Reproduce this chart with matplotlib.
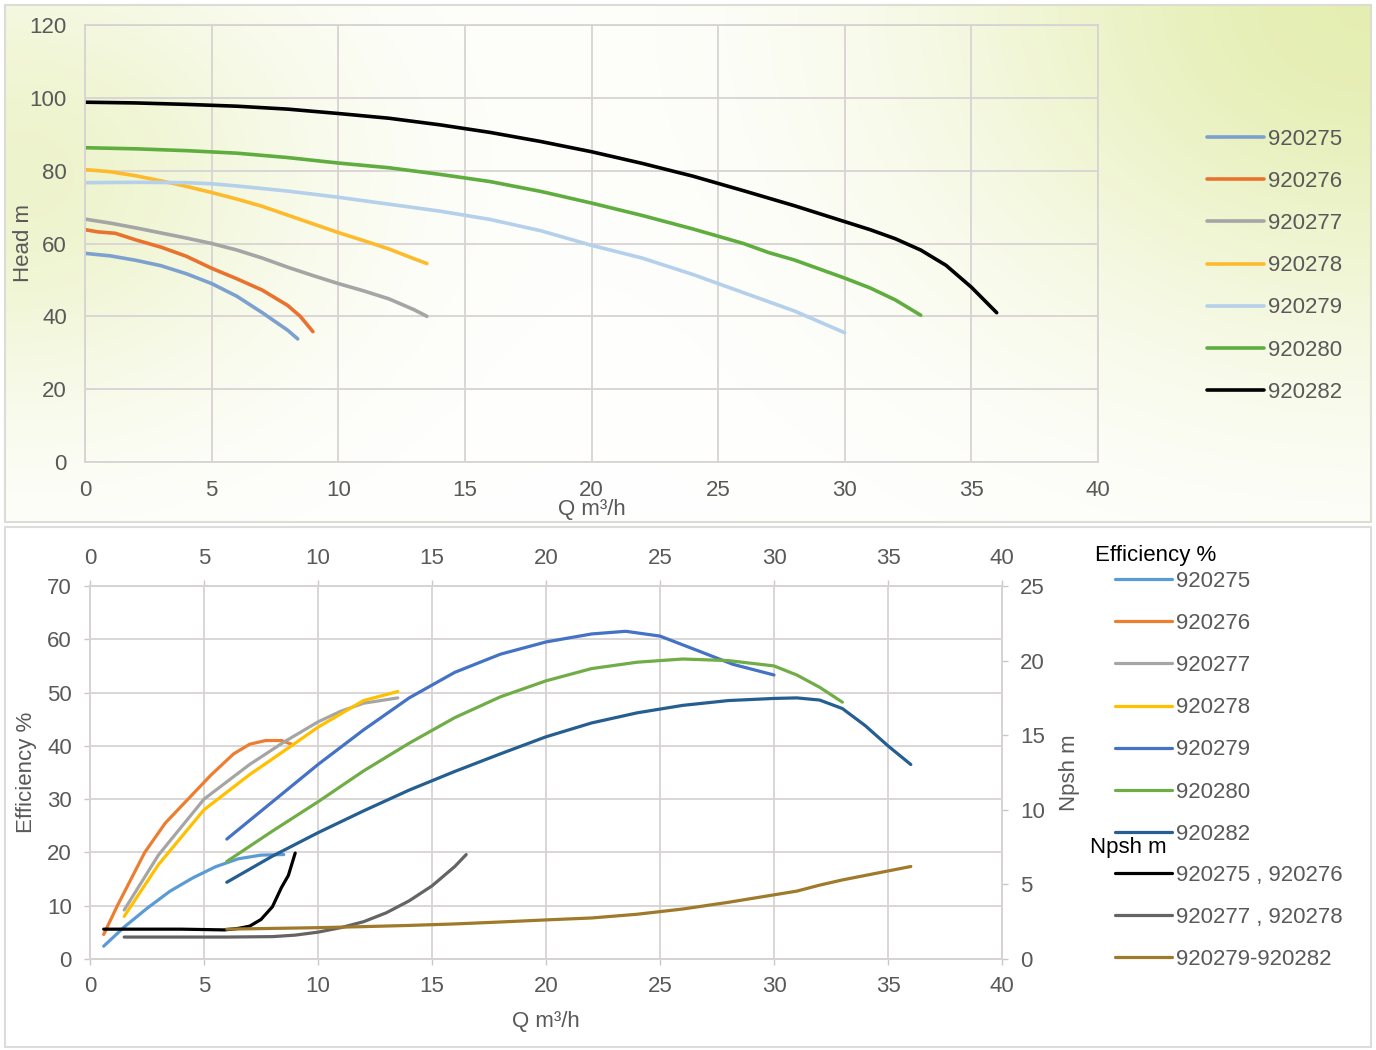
import numpy as np
import matplotlib
matplotlib.use('Agg')
import matplotlib.pyplot as plt
from matplotlib.patches import Rectangle

plt.rcParams['font.family'] = ['Liberation Sans', 'DejaVu Sans']

W, H = 1376, 1050

# ---- Head curves (top chart) ----
models = ['920275', '920276', '920277', '920278', '920279', '920280', '920282']

q_275 = [0, 1, 2, 3, 4, 5, 6, 7, 8, 8.4]
h_275 = [57.3, 56.6, 55.4, 53.9, 51.7, 49, 45.5, 41, 36.2, 33.8]
q_276 = [0, 0.5, 1.2, 2, 3, 4, 5, 6, 7, 8, 8.5, 9]
h_276 = [63.8, 63.2, 62.8, 61, 59, 56.5, 53.2, 50.3, 47.2, 43, 40, 35.8]
q_277 = [0, 1, 2, 3, 4, 5, 6, 7, 8, 9, 10, 11, 12, 13, 13.5]
h_277 = [66.7, 65.6, 64.3, 62.9, 61.5, 60, 58.2, 56, 53.5, 51.2, 49, 47, 44.8, 41.8, 40]
q_278 = [0, 1, 2, 3, 4, 5, 6, 7, 8, 9, 10, 11, 12, 13, 13.5]
h_278 = [80.3, 79.7, 78.6, 77.2, 75.7, 74, 72.2, 70.2, 67.8, 65.4, 63, 60.8, 58.5, 55.8, 54.5]
q_279 = [0, 2, 4, 5, 6, 8, 10, 12, 14, 16, 18, 20, 22, 24, 26, 28, 30]
h_279 = [76.7, 76.8, 76.7, 76.4, 75.8, 74.4, 72.7, 70.8, 68.9, 66.6, 63.5, 59.5, 56, 51.5, 46.5, 41.5, 35.5]
q_280 = [0, 2, 4, 6, 8, 10, 12, 14, 16, 18, 20, 22, 24, 26, 27, 28, 30, 31, 32, 33]
h_280 = [86.3, 86, 85.5, 84.8, 83.6, 82.1, 80.8, 79, 77, 74.3, 71.1, 67.7, 64, 60, 57.5, 55.5, 50.5, 47.8, 44.5, 40.3]
q_282 = [0, 2, 4, 6, 8, 10, 12, 14, 16, 18, 20, 22, 24, 26, 28, 30, 31, 32, 33, 34, 35, 36]
h_282 = [98.8, 98.6, 98.2, 97.7, 96.9, 95.7, 94.4, 92.6, 90.5, 88, 85.2, 82, 78.5, 74.5, 70.4, 66, 63.8, 61.3, 58.2, 54, 48, 41]

# ---- Efficiency curves (bottom chart, left axis) ----
eq_275 = [0.6, 1.5, 2.5, 3.5, 4.5, 5.5, 6.5, 7.5, 8.5]
ef_275 = [2.4, 6, 9.5, 12.7, 15.2, 17.3, 18.8, 19.5, 19.6]
eq_276 = [0.6, 1.2, 2.4, 3.3, 4.3, 5.3, 6.3, 7.0, 7.7, 8.4, 8.9]
ef_276 = [4.6, 10, 20, 25.5, 30, 34.5, 38.5, 40.3, 41, 41, 40.2]
eq_277 = [1.5, 3, 5, 7, 8.5, 10, 11, 12, 13.5]
ef_277 = [9.2, 19.5, 30, 36.5, 40.7, 44.5, 46.5, 48, 49]
eq_278 = [1.5, 3, 5, 7, 8.9, 10, 11, 12, 13.5]
ef_278 = [8, 17.7, 28, 34.6, 40.2, 43.5, 46, 48.5, 50.2]
eq_279 = [6, 8, 10, 12, 14, 16, 18, 20, 22, 23.5, 25, 26.7, 28.2, 30]
ef_279 = [22.5, 29.5, 36.5, 43, 49, 53.8, 57.2, 59.5, 61, 61.5, 60.6, 57.8, 55.3, 53.3]
eq_280 = [6, 8, 10, 12, 14, 16, 18, 20, 22, 24, 26, 28, 30, 31, 32, 33]
ef_280 = [18.3, 24, 29.5, 35.3, 40.5, 45.3, 49.2, 52.2, 54.5, 55.7, 56.3, 56, 55, 53.3, 51, 48.2]
eq_282 = [6, 8, 10, 12, 14, 16, 18, 20, 22, 24, 26, 28, 30, 31, 32, 33, 34, 35, 36]
ef_282 = [14.4, 19.3, 23.7, 27.8, 31.7, 35.2, 38.5, 41.7, 44.3, 46.2, 47.6, 48.5, 48.9, 49, 48.6, 47, 43.8, 40, 36.5]

# ---- Npsh curves (bottom chart, right axis) ----
npsh_labels = ['920275 , 920276', '920277 , 920278', '920279-920282']
nq_a = [0.6, 2, 4, 5.9, 6.5, 7, 7.5, 8, 8.4, 8.7, 9]
np_a = [2.0, 2.0, 2.0, 1.95, 2.05, 2.2, 2.65, 3.5, 4.8, 5.6, 7.1]
nq_b = [1.5, 4, 6, 8, 9, 10, 11, 12, 13, 14, 15, 16, 16.5]
np_b = [1.47, 1.47, 1.47, 1.5, 1.6, 1.8, 2.1, 2.5, 3.1, 3.9, 4.9, 6.2, 7.0]
nq_c = [6, 8, 10, 12, 14, 16, 18, 20, 22, 24, 26, 28, 30, 31, 32, 33, 34, 35, 36]
np_c = [2.0, 2.05, 2.1, 2.17, 2.25, 2.35, 2.48, 2.62, 2.75, 3.0, 3.35, 3.8, 4.3, 4.55, 4.95, 5.3, 5.6, 5.9, 6.2]

head_colors = ['#7DA1CF', '#E9722E', '#A5A5A5', '#FDBA2C', '#B4D0EA', '#5FAD3E', '#000000']
eff_colors = ['#5B9BD5', '#ED7D31', '#A5A5A5', '#FFC000', '#4472C4', '#70AD47', '#255E91']
npsh_colors = ['#000000', '#646464', '#9E7A2A']

GRID = '#D8D3D3'
TXT = '#595959'
FS = 16
LW = 2.3

fig = plt.figure(figsize=(W / 100, H / 100), dpi=100)


def fx(px):
    return px / W


def fy(py):
    return 1 - py / H


# background gradient for the top panel
bg = fig.add_axes([fx(5), fy(522), fx(1366), 517 / H], zorder=-10)
yy, xx = np.mgrid[0:517, 0:1366]
w_left = 0.6 * np.exp(-((xx - 10) / 310.0) ** 2) * np.exp(-((yy - 170) / 240.0) ** 2)
w_right = 0.9 * np.exp(-(((1366 - xx) / 440.0) ** 2 + (yy / 340.0) ** 2))
w = 1 - (1 - w_left) * (1 - w_right)
tint = np.array([226, 236, 170]) / 255.0
img = (1 - w[..., None]) * 1.0 + w[..., None] * tint
bg.imshow(img, aspect='auto', extent=[0, 1, 0, 1], origin='upper')
bg.axis('off')

fig.patches.append(Rectangle((fx(5), fy(522)), fx(1366), 517 / H, transform=fig.transFigure,
                             fill=False, edgecolor='#DCDCD4', lw=1.5))
fig.patches.append(Rectangle((fx(5), fy(1047)), fx(1366), 520 / H, transform=fig.transFigure,
                             fill=False, edgecolor='#DCDCDC', lw=1.5))

leg_kw = dict(bbox_transform=fig.transFigure, frameon=False, fontsize=FS, labelcolor=TXT,
              handlelength=2.55, handletextpad=0.2, labelspacing=0.95, borderpad=0, borderaxespad=0)

# ---------------- top chart ----------------
ax1 = fig.add_axes([fx(85), fy(462), fx(1013), 437 / H])
ax1.set_facecolor('none')
head_q = [q_275, q_276, q_277, q_278, q_279, q_280, q_282]
head_h = [h_275, h_276, h_277, h_278, h_279, h_280, h_282]
lines1 = []
for q, h, c, m in zip(head_q, head_h, head_colors, models):
    ln, = ax1.plot(q, h, color=c, lw=LW + 0.3, label=m, solid_capstyle='round', solid_joinstyle='round')
    lines1.append(ln)
ax1.set_xlim(0, 40)
ax1.set_ylim(0, 120)
ax1.set_xticks(range(0, 41, 5))
ax1.set_yticks(range(0, 121, 20))
ax1.grid(True, color=GRID, lw=1.3)
for s in ax1.spines.values():
    s.set_color(GRID)
    s.set_linewidth(1.3)
ax1.tick_params(length=0, labelsize=FS, labelcolor=TXT)
ax1.tick_params(axis='y', pad=13)
ax1.tick_params(axis='x', pad=13)
ax1.set_xlabel('Q m³/h', fontsize=FS, color=TXT)
ax1.xaxis.set_label_coords(0.5, -0.085)
ax1.set_ylabel('Head m', fontsize=FS, color=TXT)
ax1.yaxis.set_label_coords(-0.05, 0.5)
ax1.set_axisbelow(True)

ax1.legend(handles=lines1, loc='upper left', bbox_to_anchor=(fx(1207), fy(129)), **leg_kw)

# ---------------- bottom chart ----------------
ax2 = fig.add_axes([fx(90), fy(959), fx(912), 373 / H])
eff_q = [eq_275, eq_276, eq_277, eq_278, eq_279, eq_280, eq_282]
eff_v = [ef_275, ef_276, ef_277, ef_278, ef_279, ef_280, ef_282]
lines2 = []
for q, e, c, m in zip(eff_q, eff_v, eff_colors, models):
    ln, = ax2.plot(q, e, color=c, lw=LW, label=m, solid_capstyle='round', solid_joinstyle='round')
    lines2.append(ln)
ax2.set_xlim(0, 40)
ax2.set_ylim(0, 70)
ax2.set_xticks(range(0, 41, 5))
ax2.set_yticks(range(0, 71, 10))
ax2.grid(True, color=GRID, lw=1.3)
for s in ax2.spines.values():
    s.set_color(GRID)
    s.set_linewidth(1.3)
ax2.tick_params(direction='out', length=4, width=1, color='#C8C8C8', labelsize=FS, labelcolor=TXT,
                top=True, labeltop=True)
ax2.tick_params(axis='y', pad=9)
ax2.tick_params(axis='x', pad=8)
ax2.set_xlabel('Q m³/h', fontsize=FS, color=TXT)
ax2.xaxis.set_label_coords(0.5, -0.14)
ax2.set_ylabel('Efficiency %', fontsize=FS, color=TXT)
ax2.yaxis.set_label_coords(-0.058, 0.5)

ax3 = ax2.twinx()
npsh_q = [nq_a, nq_b, nq_c]
npsh_v = [np_a, np_b, np_c]
lines3 = []
for q, n, c, m in zip(npsh_q, npsh_v, npsh_colors, npsh_labels):
    ln, = ax3.plot(q, n, color=c, lw=LW, label=m, solid_capstyle='round', solid_joinstyle='round')
    lines3.append(ln)
ax3.set_ylim(0, 25)
ax3.set_yticks(range(0, 26, 5))
for s in ax3.spines.values():
    s.set_color(GRID)
    s.set_linewidth(1.3)
ax3.tick_params(direction='out', length=4, width=1, color='#C8C8C8', labelsize=FS, labelcolor=TXT, pad=9)
ax3.set_ylabel('Npsh m', fontsize=FS, color=TXT)
ax3.yaxis.set_label_coords(1.062, 0.5)

fig.text(fx(1095), fy(556), 'Efficiency %', fontsize=FS, color='black', ha='left', va='center')
fig.text(fx(1090), fy(847), 'Npsh m', fontsize=FS, color='black', ha='left', va='center')

ax2.legend(handles=lines2, loc='upper left', bbox_to_anchor=(fx(1115), fy(571)), **leg_kw)
ax3.legend(handles=lines3, loc='upper left', bbox_to_anchor=(fx(1115), fy(865)), **leg_kw)

fig.savefig('out.png', dpi=100)
